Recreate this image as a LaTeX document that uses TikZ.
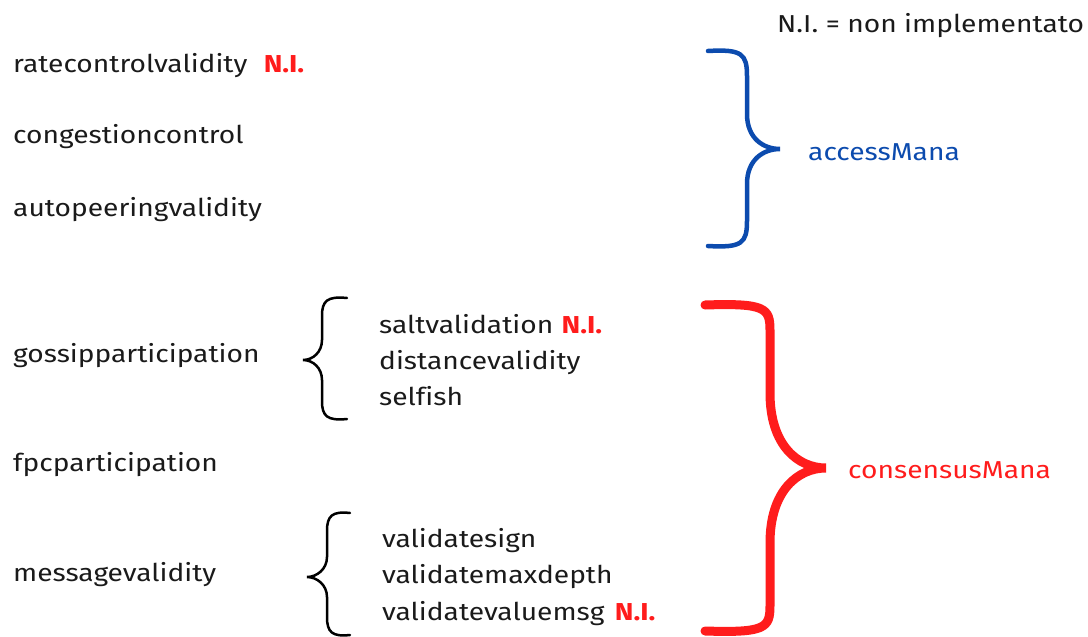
\documentclass[tikz,border=0pt]{standalone}
\usepackage{fontspec}
\setmainfont[Ligatures={NoCommon},FakeStretch=1.15]{Fira Sans}
\definecolor{brblue}{HTML}{0C4BAE}
\definecolor{brred}{HTML}{FF1C1C}
\definecolor{txt}{HTML}{1A1A1A}
\newcommand{\rbr}[8]{% x0 xv xtip ytop ymid ybot style tipcurve
  \draw[#7] (#1,#4) .. controls ({#2-5},{#4-2}) and (#2,{#4+3}) .. (#2,{#4+25})
    -- (#2,{#5-#8}) .. controls (#2,{#5-0.3*#8}) and ({#3-0.5*(#3-#2)},#5) .. (#3,#5)
    .. controls ({#3-0.5*(#3-#2)},#5) and (#2,{#5+0.3*#8}) .. (#2,{#5+#8})
    -- (#2,{#6-25}) .. controls (#2,{#6-3}) and ({#2-5},{#6+2}) .. (#1,#6);}
\newcommand{\lbr}[7]{% x0 xv xtip ytop ymid ybot style
  \draw[#7] (#1,#4) .. controls ({#2+5},{#4-2}) and (#2,{#4+3}) .. (#2,{#4+18})
    -- (#2,{#5-20}) .. controls (#2,{#5-8}) and ({#3+10},#5) .. (#3,#5)
    .. controls ({#3+10},#5) and (#2,{#5+8}) .. (#2,{#5+20})
    -- (#2,{#6-18}) .. controls (#2,{#6-3}) and ({#2+5},{#6+2}) .. (#1,#6);}
\tikzset{
  lbl/.style={anchor=base west, inner sep=0pt, font=\fontsize{24.5}{28}\selectfont, text=txt},
  ni/.style={anchor=base west, inner sep=0pt, font=\fontsize{24.5}{28}\selectfont\bfseries, text=brred},
}
\begin{document}
\begin{tikzpicture}[x=1pt,y=-1pt]
\useasboundingbox (0,0) rectangle (1088,637);
\node[lbl] (legend) at (777,32) {N.I. = non implementato};
\node[lbl] (rate) at (13,72) {ratecontrolvalidity};
\node[ni] (rateni) at ([xshift=16pt]rate.base east) {N.I.};
\node[lbl] (cong) at (13,143) {congestioncontrol};
\node[lbl] (auto) at (13,216) {autopeeringvalidity};
\node[lbl] (goss) at (13,362) {gossipparticipation};
\node[lbl] (fpc) at (13,471) {fpcparticipation};
\node[lbl] (msg) at (13,581) {messagevalidity};
\node[lbl] (salt) at (379,333) {saltvalidation};
\node[ni] (saltni) at ([xshift=8pt]salt.base east) {N.I.};
\node[lbl] (dist) at (379,369) {distancevalidity};
\node[lbl] (self) at (379,405) {selfish};
\node[lbl] (vsign) at (382,547) {validatesign};
\node[lbl] (vmax) at (382,583) {validatemaxdepth};
\node[lbl] (vval) at (382,620) {validatevaluemsg};
\node[ni] (vvalni) at ([xshift=10pt]vval.base east) {N.I.};
\node[lbl, text=brblue] (access) at (808,160) {accessMana};
\node[lbl, text=brred] (cons) at (848,478) {consensusMana};
\rbr{708}{747}{780}{51}{149}{246}{brblue, line width=4.5pt, line cap=round}{35}
\rbr{705}{770}{826}{305}{468}{631}{brred, line width=9pt, line cap=round}{75}
\lbr{347}{322}{303}{298}{360}{419}{black, line width=2.5pt, line cap=round}
\lbr{350}{327}{307}{513}{577}{635}{black, line width=2.5pt, line cap=round}
\end{tikzpicture}
\end{document}
